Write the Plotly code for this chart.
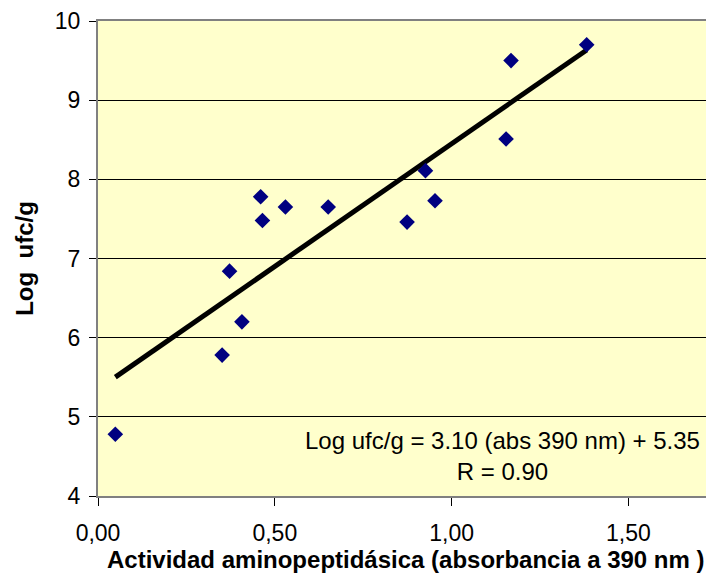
import plotly.graph_objects as go

# Data
absorbance = [0.049, 0.351, 0.372, 0.407, 0.460, 0.465, 0.530, 0.651,
              0.874, 0.926, 0.953, 1.154, 1.168, 1.382]
log_ufc = [4.78, 5.78, 6.84, 6.20, 7.78, 7.48, 7.65, 7.65,
           7.46, 8.11, 7.73, 8.51, 9.50, 9.70]

slope = 3.10
intercept = 5.35
r_value = 0.90

x_ticks = [0.0, 0.5, 1.0, 1.5]
x_tick_labels = ["0,00", "0,50", "1,00", "1,50"]
y_ticks = [4, 5, 6, 7, 8, 9, 10]

x_title = "Actividad aminopeptidásica (absorbancia a 390 nm )"
y_title = "Log  ufc/g"

line_x = [min(absorbance), max(absorbance)]
line_y = [slope * v + intercept for v in line_x]

FONT = "Liberation Sans, Arial, sans-serif"

fig = go.Figure()
fig.add_trace(go.Scatter(
    x=line_x, y=line_y, mode="lines",
    line=dict(color="black", width=5),
    hoverinfo="skip", showlegend=False,
))
fig.add_trace(go.Scatter(
    x=absorbance, y=log_ufc, mode="markers",
    marker=dict(symbol="diamond", size=12, color="#000080",
                line=dict(width=0)),
    showlegend=False,
))

eq_text = (f"Log ufc/g = {slope:.2f} (abs 390 nm) + {intercept:.2f}"
           f"<br>R = {r_value:.2f}")

fig.add_annotation(
    x=1.144, y=4.5, xref="x", yref="y",
    text=eq_text, showarrow=False, align="center",
    xanchor="center", yanchor="middle",
    font=dict(family=FONT, size=24, color="black"),
)
fig.add_annotation(
    x=0.5, y=-0.1335, xref="paper", yref="paper",
    text=f"<b>{x_title}</b>", showarrow=False,
    xanchor="center", yanchor="middle",
    font=dict(family=FONT, size=24, color="black"),
)

fig.update_layout(
    width=706, height=566,
    margin=dict(l=90, r=0, t=13, b=77.5, pad=0),
    paper_bgcolor="white",
    plot_bgcolor="#FFFFCC",
    font=dict(family=FONT, size=23, color="black"),
    xaxis=dict(
        range=[0, 1.742],
        tickvals=x_ticks, ticktext=x_tick_labels,
        showgrid=False, zeroline=False,
        showline=True, linecolor="#808080", linewidth=2, mirror=True,
        ticks="outside", ticklen=8, tickcolor="black", tickwidth=1,
        tickfont=dict(size=23), ticklabelstandoff=7,
    ),
    yaxis=dict(
        range=[4, 10],
        tickvals=y_ticks,
        showgrid=True, gridcolor="black", gridwidth=1,
        zeroline=False,
        showline=True, linecolor="#808080", linewidth=2,
        ticks="outside", ticklen=7, tickcolor="black", tickwidth=1,
        tickfont=dict(size=23), ticklabelstandoff=4,
        title=dict(text=f"<b>{y_title}</b>", standoff=14,
                   font=dict(size=24)),
    ),
)

fig.write_html("out.html")
